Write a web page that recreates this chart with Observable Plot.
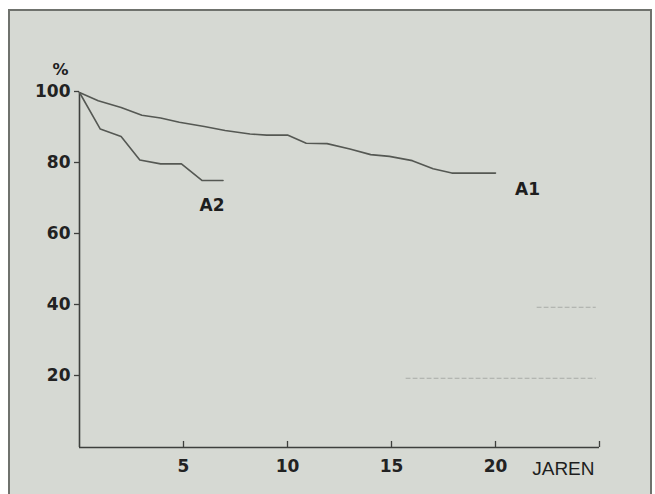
<!DOCTYPE html>
<html><head><meta charset="utf-8">
<script src="https://cdn.jsdelivr.net/npm/d3@7"></script>
<script src="https://cdn.jsdelivr.net/npm/@observablehq/plot@0.6"></script>
<style>
html,body{margin:0;padding:0;background:#fff;}
#wrap{position:relative;width:655px;height:494px;overflow:hidden;background:#fff;}
#panel{position:absolute;left:8px;top:9px;width:644px;height:500px;border:2px solid #6f726d;background:#d6d9d3;box-sizing:border-box;}
#wrap svg{position:absolute;left:0;top:0;background:transparent;overflow:visible;}
</style></head><body><div id="wrap"><div id="panel"></div></div>
<script>
// Survival (%) versus years — two series
const yearsA1 = [0, 0.9, 2, 3, 3.9, 4.8, 6, 7, 8.2, 9, 10, 10.9, 11.9, 13, 14, 14.9, 16, 17, 17.9, 20];
const pctA1   = [100, 97.7, 95.8, 93.6, 92.8, 91.6, 90.4, 89.3, 88.3, 88, 88, 85.7, 85.6, 84.1, 82.5, 82, 80.8, 78.5, 77.3, 77.3];
const yearsA2 = [0, 1, 2, 2.9, 3.9, 4.9, 5.9, 6.9];
const pctA2   = [100, 89.7, 87.6, 81, 79.9, 79.9, 75.2, 75.2];
// faint dotted traces visible in the lower right of the scan
const faintYears = [[15.7, 24.8], [22, 24.8]];
const faintPct   = [[19.5, 19.5], [39.5, 39.5]];
const xTicks = [5, 10, 15, 20, 25];
const yTicks = [20, 40, 60, 80, 100];
const seriesNames = ["A1", "A2"];
const xTitle = "JAREN";
const yTitle = "%";

const rows = [];
yearsA1.forEach((x, i) => rows.push({series: seriesNames[0], x, y: pctA1[i]}));
yearsA2.forEach((x, i) => rows.push({series: seriesNames[1], x, y: pctA2[i]}));
const faint = [];
faintYears.forEach((xs, k) => xs.forEach((x, i) => faint.push({k, x, y: faintPct[k][i]})));

const ink = "#3e403d";
const chart = Plot.plot({
  width: 655,
  height: 494,
  marginLeft: 79,
  marginRight: 56,
  marginTop: 92,
  marginBottom: 47,
  style: {background: "transparent", color: "#222", fontFamily: "'DejaVu Sans', sans-serif", fontSize: "17px", fontWeight: "bold"},
  x: {domain: [0, 25]},
  y: {domain: [0, 100]},
  marks: [
    Plot.axisY({ticks: yTicks, tickSize: 5, tickPadding: 4, label: null, stroke: ink, strokeWidth: 1.3, dy: -1}),
    Plot.axisX({ticks: xTicks, tickSize: 0, tickPadding: 12, tickFormat: d => d === 25 ? "" : d, label: null}),
    Plot.ruleX(xTicks, {y1: 0, y2: 1.7, stroke: ink, strokeWidth: 1.3}),
    Plot.ruleX([0], {stroke: ink, strokeWidth: 1.6}),
    Plot.ruleY([0], {stroke: ink, strokeWidth: 1.6}),
    Plot.line(faint, {x: "x", y: "y", z: "k", stroke: "#8a8d88", strokeWidth: 1, strokeDasharray: "4,3", strokeOpacity: 0.6}),
    Plot.line(rows, {x: "x", y: "y", z: "series", stroke: "#555853", strokeWidth: 1.6}),
    Plot.text(rows, Plot.selectLast({x: "x", y: "y", z: "series", text: "series",
      fill: "#1e1e1e", fontSize: 17, fontWeight: "bold",
      filter: d => d.series === "A1", dx: 32, dy: 16})),
    Plot.text(rows, Plot.selectLast({x: "x", y: "y", z: "series", text: "series",
      fill: "#1e1e1e", fontSize: 17, fontWeight: "bold",
      filter: d => d.series === "A2", dx: -11, dy: 25})),
    Plot.text([yTitle], {frameAnchor: "top-left", dx: -27, dy: -29, fontSize: 16, fontWeight: "bold", fill: "#1e1e1e"}),
    Plot.text([xTitle], {frameAnchor: "bottom-right", textAnchor: "end", lineAnchor: "bottom", dx: -5, dy: 27,
      fontFamily: "'Liberation Sans', Arial, sans-serif", fontWeight: "normal", fontSize: 19, fill: "#1e1e1e"})
  ]
});
document.getElementById("wrap").appendChild(chart);
</script>
</body></html>
